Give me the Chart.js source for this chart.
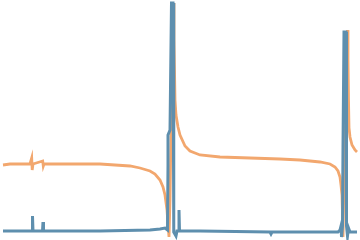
<!DOCTYPE html>
<html>
<head>
<meta charset="utf-8">
<script src="https://cdn.jsdelivr.net/npm/chart.js@4"></script>
<style>
  html, body { margin: 0; padding: 0; background: #fff; }
  #wrap { width: 360px; height: 240px; }
</style>
</head>
<body>
<div id="wrap"><canvas id="chart" width="360" height="240"></canvas></div>
<script>
// titration-like curve (orange) and its derivative (blue)
const curveX = [0.3, 1.0, 3.0, 3.17, 3.22, 3.3, 4.27, 4.33, 4.4, 6.0, 10.0, 11.5, 13.0, 14.0, 15.0, 15.5, 16.0, 16.3, 16.5, 16.7, 16.8, 16.9,
  17.0, 17.15, 17.3, 17.4, 17.5, 17.6, 17.8, 18.0, 18.5, 19.0, 20.0, 22.0, 25.0, 28.0, 30.0, 32.0, 33.0, 33.5, 33.8, 34.0, 34.1, 34.2, 34.25, 34.3,
  34.5, 34.75, 34.8, 34.85, 34.9, 35.0, 35.2, 35.5, 35.7];
const curveY = [3.75, 3.8, 3.8, 4.1, 3.5, 3.8, 3.95, 3.7, 3.8, 3.8, 3.8, 3.75, 3.7, 3.6, 3.45, 3.3, 3.0, 2.65, 2.25, 1.5, 0.75, 0.15,
  2.0, 7.0, 11.85, 10.0, 7.0, 6.25, 5.65, 5.25, 4.7, 4.45, 4.25, 4.15, 4.1, 4.05, 4.0, 3.9, 3.8, 3.65, 3.45, 3.15, 2.75, 2.25, 1.25, 0.15,
  6.0, 10.5, 9.0, 7.0, 5.6, 5.15, 4.75, 4.5, 4.4];

const derivX = [0.3, 3.2, 3.25, 3.3, 4.25, 4.3, 4.35, 10.0, 15.0, 16.0, 16.5, 16.75, 16.8, 16.8, 17.0, 17.15, 17.3, 17.35, 17.4, 17.6, 17.7,
  17.85, 17.9, 17.95, 20.0, 27.0, 27.1, 27.2, 30.0, 33.8, 34.0, 34.1, 34.15, 34.25, 34.3, 34.4, 34.6, 34.65, 34.75, 34.85, 35.0, 35.7];
const derivY = [0.45, 0.45, 1.2, 0.45, 0.45, 0.9, 0.45, 0.45, 0.5, 0.55, 0.6, 0.5, 3.75, 5.25, 5.5, 11.85, 11.85, 4.5, 0.4, 0.2, 0.45,
  0.45, 1.5, 0.45, 0.45, 0.4, 0.3, 0.4, 0.4, 0.4, 0.5, 0.7, 0.15, 0.7, 4.65, 10.4, 10.4, 0.7, 0.2, 0.6, 0.4, 0.4];

const pts = (xs, ys) => xs.map((x, i) => ({ x: x, y: ys[i] }));

new Chart(document.getElementById('chart'), {
  type: 'line',
  data: {
    datasets: [{
      label: 'derivative',
      data: pts(derivX, derivY),
      borderColor: '#5e8fae',
      borderWidth: 3,
      pointRadius: 0,
      tension: 0,
      order: 0
    }, {
      label: 'curve',
      data: pts(curveX, curveY),
      borderColor: '#f2a76e',
      borderWidth: 2.8,
      pointRadius: 0,
      tension: 0,
      order: 1
    }]
  },
  options: {
    responsive: false,
    animation: false,
    layout: { padding: 0 },
    plugins: { legend: { display: false }, tooltip: { enabled: false } },
    scales: {
      x: { type: 'linear', min: 0, max: 36, display: false },
      y: { min: 0, max: 12, display: false }
    }
  }
});
</script>
</body>
</html>
